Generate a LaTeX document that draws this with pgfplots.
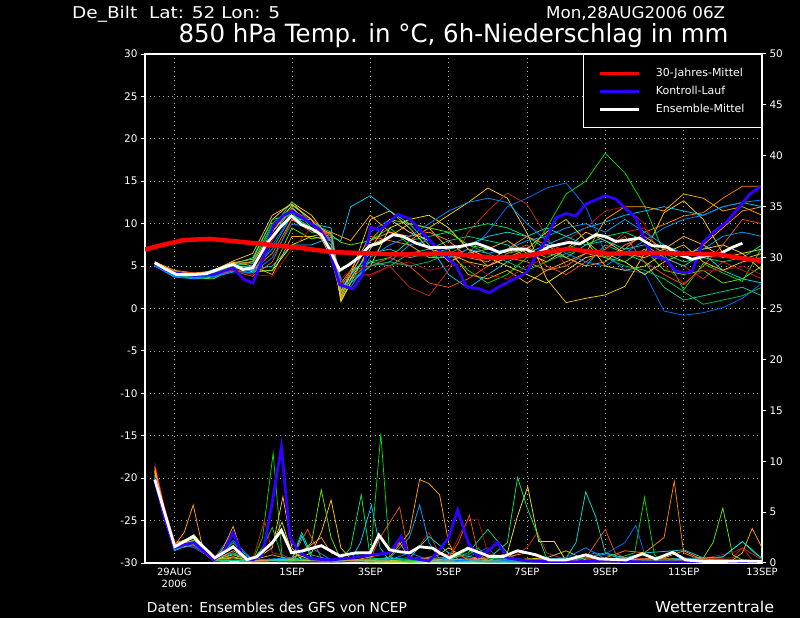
\documentclass[border=0pt]{standalone}
\usepackage{pgfplots}
\pgfplotsset{compat=1.18}
\usepackage{pgfplotstable}
\usepackage{graphicx}
\usepackage{fontspec}
\setmainfont{DejaVu Sans}

\definecolor{gridc}{RGB}{170,170,170}
\definecolor{ctrl}{RGB}{50,0,255}
\definecolor{gr}{RGB}{0,220,0}
\definecolor{az}{RGB}{0,110,255}
\definecolor{gd}{RGB}{255,200,0}
\definecolor{dor}{RGB}{255,130,0}
\definecolor{cy}{RGB}{0,200,255}
\definecolor{te}{RGB}{0,210,150}
\definecolor{rb}{RGB}{200,40,20}
\definecolor{orc}{RGB}{255,165,0}
\definecolor{ye}{RGB}{240,230,30}
\definecolor{li}{RGB}{100,230,0}
\definecolor{sg}{RGB}{0,235,100}
\definecolor{dr}{RGB}{170,20,20}
\definecolor{ore}{RGB}{240,80,20}
\definecolor{sb}{RGB}{0,160,255}
\definecolor{lo}{RGB}{255,185,60}
\definecolor{tc}{RGB}{0,220,210}
\definecolor{yd}{RGB}{230,200,20}
\definecolor{gm}{RGB}{0,190,90}
\definecolor{bm}{RGB}{0,140,255}
\definecolor{om}{RGB}{255,140,60}

\pgfplotstableread{
d     m1   m2   m3   m4   m5   m6   m7   m8   m9   m10  m11  m12  m13  m14  m15  m16  m17  m18  m19  m20
0.5   5.3  5.0  5.5  5.2  5.1  5.0  5.2  5.5  5.4  5.3  5.0  5.1  5.4  5.0  5.3  5.2  5.2  5.1  5.0  5.4
1.0   4.2  3.9  4.4  4.0  3.8  4.1  4.3  4.5  4.1  4.0  4.2  4.3  4.4  3.7  4.2  4.0  4.1  4.0  3.8  4.3
1.5   3.9  3.7  4.1  3.8  3.6  3.9  4.0  4.2  4.0  3.6  3.8  4.0  4.2  3.5  4.0  3.8  3.9  3.7  3.6  4.1
2.0   4.3  3.9  4.2  4.0  3.8  4.3  4.0  4.4  4.2  3.5  4.6  3.9  4.0  3.7  4.5  4.1  4.1  4.2  3.8  4.3
2.5   5.0  4.6  5.4  5.0  4.5  5.1  4.6  5.5  5.2  4.8  5.2  4.5  4.4  4.3  5.6  4.9  5.0  4.9  4.4  5.3
3.0   5.5  4.0  5.8  4.5  4.6  5.3  4.2  5.0  4.3  4.5  6.0  4.0  3.8  4.5  6.5  5.0  4.8  5.6  4.2  5.5
3.5   10.0 7.5  10.5 6.5  5.0  9.5  8.0  4.0  4.5  4.5  10.5 3.8  5.5  7.0  11.0 8.5  9.0  9.8  6.0  9.0
4.0   12.0 11.0 12.5 10.5 7.5  12.6 11.5 8.5  7.5  9.5  11.0 7.0  10.5 11.0 12.3 11.8 12.2 11.3 10.0 11.8
4.5   9.5  10.0 11.0 10.5 7.5  10.0 10.5 8.5  8.5  8.2  9.5  9.5  9.0  10.0 10.5 10.0 10.5 9.0  9.5  10.0
5.0   7.5  8.5  8.0  8.5  8.4  9.0  8.0  9.0  8.0  8.7  8.0  8.5  9.0  8.0  7.0  9.5  6.0  8.8  8.0  8.8
5.25  2.0  2.5  1.0  3.0  8.0  1.5  3.0  8.5  0.8  7.8  1.8  3.5  2.5  2.8  1.2  2.0  1.5  2.2  3.5  2.0
5.5   4.0  3.5  3.0  4.5  12.0 3.5  3.8  8.0  3.0  7.5  4.5  4.5  4.5  3.0  3.5  4.0  4.0  3.3  2.5  4.0
6.0   8.0  9.0  7.5  8.5  13.3 5.5  4.0  11.0 5.0  8.0  5.5  3.8  5.0  5.0  7.0  6.5  10.5 5.0  6.0  8.0
6.5   9.5  10.5 8.5  8.0  11.5 5.0  5.0  9.0  9.5  10.5 6.0  5.0  6.0  5.5  10.5 7.0  11.5 5.5  7.5  9.0
7.0   7.5  9.0  10.0 7.5  10.0 6.5  2.5  8.0  10.5 10.0 8.0  5.5  5.0  7.5  9.0  6.0  9.5  5.0  8.5  8.5
7.5   6.0  8.0  9.5  6.0  7.5  7.0  1.5  9.5  11.0 9.5  8.5  4.5  3.0  8.0  8.0  6.5  7.0  5.5  10.0 9.0
8.0   6.5  6.0  11.0 6.0  4.0  8.0  4.5  7.0  9.5  9.0  9.0  5.0  2.5  6.0  5.5  7.0  6.5  6.5  11.5 8.0
8.5   4.5  6.5  12.5 7.0  2.4  8.5  9.0  4.0  7.0  7.5  9.5  5.5  3.5  7.0  6.5  7.5  5.5  7.5  12.5 6.0
9.0   3.0  9.0  14.2 5.0  4.0  8.0  11.5 3.5  6.0  7.0  10.0 4.0  5.0  6.5  7.0  8.5  5.0  6.5  13.0 5.5
9.5   4.0  12.0 13.0 6.0  5.5  7.5  13.6 4.5  5.0  6.5  9.5  3.5  6.5  7.0  8.0  9.0  6.0  5.5  12.5 7.0
10.0  6.0  13.0 8.9  5.5  6.5  6.0  12.3 3.0  4.0  7.0  8.5  5.0  7.5  8.0  6.5  8.5  7.0  4.5  10.0 8.5
10.5  9.5  14.2 3.5  4.5  7.5  6.5  8.5  4.5  3.0  6.0  7.0  6.0  5.0  8.5  5.5  9.5  9.0  5.5  8.0  7.5
11.0  13.5 14.8 0.7  5.0  8.5  6.0  5.0  5.5  4.5  7.0  6.0  8.0  4.0  9.5  7.0  8.5  10.5 6.5  6.5  6.0
11.5  15.0 12.0 1.2  6.5  9.5  5.0  6.5  6.5  6.0  8.0  7.5  9.5  5.5  10.0 9.0  7.5  8.0  7.0  5.5  5.0
12.0  18.3 6.5  1.6  6.0  10.2 7.5  7.0  10.5 6.5  6.0  8.5  11.5 7.0  9.0  8.0  8.0  5.0  6.0  5.0  5.5
12.5  16.0 4.5  2.6  7.0  11.0 6.5  9.0  12.0 5.5  5.5  9.0  12.0 8.5  10.5 6.5  7.0  4.5  5.0  6.5  7.5
13.0  12.1 4.2  6.5  9.0  11.5 5.5  9.5  12.0 4.0  7.0  8.0  10.0 5.5  9.0  6.0  7.5  5.0  4.5  8.0  8.5
13.5  6.5  -0.3 11.3 9.9  12.0 2.5  6.0  11.5 5.5  4.5  6.5  5.0  4.0  7.5  7.0  6.0  6.5  3.5  9.5  7.0
14.0  2.2  -0.8 12.7 10.9 11.5 1.0  5.0  13.5 6.5  4.0  5.5  3.0  2.8  6.5  8.5  5.0  7.5  2.0  10.5 6.0
14.5  5.3  -0.5 10.5 11.3 11.0 1.5  3.5  13.0 7.0  4.5  6.0  4.5  5.0  7.0  7.5  6.5  5.5  0.5  11.0 7.5
15.0  4.2  0.1  6.5  13.0 12.0 2.0  5.5  11.5 7.5  3.0  5.5  4.5  7.5  8.5  6.0  4.5  4.5  1.0  12.0 9.5
15.5  3.2  1.2  5.8  14.4 12.5 2.5  4.5  12.0 6.5  3.5  6.0  5.0  10.5 9.0  6.5  3.5  5.5  1.5  12.5 11.5
16.0  7.2  3.0  6.5  14.4 12.0 1.5  3.5  11.0 7.0  5.0  7.5  4.0  10.0 8.5  4.5  3.0  6.0  2.5  12.8 12.0
}\tmembers

\pgfplotsset{
  mem/.style={line width=0.75bp, forget plot},
}

\begin{document}
\begin{tikzpicture}
\fill[black] (0bp,0bp) rectangle (800bp,618bp);

\begin{axis}[
  at={(145bp,55bp)}, anchor=south west, scale only axis,
  width=617bp, height=509bp,
  xmin=0.25, xmax=16, ymin=-30, ymax=30,
  axis line style={white, line width=1.5bp},
  xtick={1,4,6,8,10,12,14,16},
  xticklabels={{29AUG\\2006},1SEP,3SEP,5SEP,7SEP,9SEP,11SEP,13SEP},
  xticklabel style={text=white, align=center, font=\fontsize{10}{11.5}\selectfont, inner sep=1bp},
  xtick style={draw=none},
  ytick={-30,-25,...,30},
  ytick pos=left,
  yticklabel style={text=white, font=\fontsize{10.5}{10.5}\selectfont},
  tick align=outside, major tick length=4bp,
  ytick style={white, line width=1bp},
  grid=major,
  major grid style={draw=gridc, line width=0.8bp, dash pattern=on 1bp off 3.5bp},
  /pgf/number format/assume math mode=true,
  legend style={at={(1,1)}, anchor=north east, fill=black, draw=white, line width=1bp,
    text=white, font=\fontsize{11}{11}\selectfont, inner xsep=15bp, inner ysep=12bp,
    row sep=4bp, column sep=13bp, nodes={inner sep=2bp}},
  legend cell align=left,
  legend image code/.code={\draw[#1, line width=3bp] (0bp,0bp) -- (39bp,0bp);},
]
\addlegendimage{red}\addlegendentry{30-Jahres-Mittel}
\addlegendimage{ctrl}\addlegendentry{Kontroll-Lauf}
\addlegendimage{white}\addlegendentry{Ensemble-Mittel}

\addplot[mem, gr]  table[x=d,y=m1]{\tmembers};
\addplot[mem, az]  table[x=d,y=m2]{\tmembers};
\addplot[mem, gd]  table[x=d,y=m3]{\tmembers};
\addplot[mem, dor] table[x=d,y=m4]{\tmembers};
\addplot[mem, cy]  table[x=d,y=m5]{\tmembers};
\addplot[mem, te]  table[x=d,y=m6]{\tmembers};
\addplot[mem, rb]  table[x=d,y=m7]{\tmembers};
\addplot[mem, orc] table[x=d,y=m8]{\tmembers};
\addplot[mem, ye]  table[x=d,y=m9]{\tmembers};
\addplot[mem, li]  table[x=d,y=m10]{\tmembers};
\addplot[mem, sg]  table[x=d,y=m11]{\tmembers};
\addplot[mem, dr]  table[x=d,y=m12]{\tmembers};
\addplot[mem, ore] table[x=d,y=m13]{\tmembers};
\addplot[mem, sb]  table[x=d,y=m14]{\tmembers};
\addplot[mem, lo]  table[x=d,y=m15]{\tmembers};
\addplot[mem, tc]  table[x=d,y=m16]{\tmembers};
\addplot[mem, yd]  table[x=d,y=m17]{\tmembers};
\addplot[mem, gm]  table[x=d,y=m18]{\tmembers};
\addplot[mem, bm]  table[x=d,y=m19]{\tmembers};
\addplot[mem, om]  table[x=d,y=m20]{\tmembers};

% Kontroll-Lauf
\addplot[ctrl, line width=2.8bp, forget plot] coordinates {
(0.5,5.3)(0.75,4.6)(1.0,4.2)(1.5,3.9)(2.0,4.0)(2.5,4.8)(2.75,3.5)(3.0,3.0)(3.26,5.8)(3.52,9.7)
(3.77,10.9)(3.99,11.5)(4.4,10.3)(4.71,9.3)(4.88,8.1)(5.22,2.8)(5.56,2.3)(5.81,4.0)(6.0,9.6)(6.24,9.2)
(6.49,10.2)(6.7,11.1)(7.0,10.6)(7.26,9.3)(7.77,6.8)(8.2,5.0)(8.45,2.6)(8.79,2.3)(9.04,1.85)(9.3,2.6)
(9.64,3.4)(9.98,4.2)(10.23,6.2)(10.49,8.1)(10.74,10.7)(11.0,11.2)(11.25,10.9)(11.5,12.3)(12.0,13.3)
(12.27,12.9)(12.53,11.7)(12.78,10.7)(13.03,7.7)(13.2,6.2)(13.54,5.8)(13.8,4.4)(14.05,4.2)(14.22,4.4)
(14.48,7.7)(14.73,8.9)(15.07,10.1)(15.41,11.9)(15.67,13.4)(15.96,14.4)};
% Ensemble-Mittel
\addplot[white, line width=2.8bp, forget plot] coordinates {
(0.5,5.4)(0.75,4.7)(1.06,4.0)(1.5,4.0)(1.82,4.1)(2.33,5.0)(2.5,5.2)(2.75,4.6)(3.0,4.8)(3.35,7.6)
(3.69,9.5)(3.99,10.9)(4.24,9.9)(4.5,9.4)(4.75,8.7)(4.96,7.0)(5.22,4.5)(5.47,5.2)(5.73,6.1)(5.98,7.4)
(6.24,7.7)(6.58,8.7)(6.83,8.5)(7.17,7.7)(7.51,7.2)(7.93,7.2)(8.28,7.3)(8.7,7.7)(9.0,7.2)(9.3,6.6)
(9.63,7.0)(9.98,7.0)(10.23,6.4)(10.57,7.3)(11.08,7.8)(11.34,7.6)(11.76,8.7)(12.0,8.5)(12.27,7.9)
(12.6,8.1)(12.86,8.3)(13.2,7.4)(13.54,7.3)(13.88,6.4)(14.22,5.8)(14.56,6.2)(14.9,6.4)(15.24,7.2)(15.5,7.7)};
% 30-Jahres-Mittel
\addplot[red, line width=4.5bp, forget plot] coordinates {
(0.25,6.96)(0.75,7.55)(1.22,8.06)(1.9,8.2)(2.5,7.95)(3.35,7.55)(4.2,7.15)(5.04,6.65)(5.9,6.5)
(6.75,6.37)(8.02,6.49)(9.13,5.97)(9.6,6.05)(10.15,6.37)(10.6,6.7)(11.08,7.04)(11.6,6.7)(12.1,6.45)
(13.12,6.57)(13.54,6.5)(14.2,6.45)(14.9,6.37)(15.24,6.1)(15.6,5.85)(16.0,5.58)};
\end{axis}

\begin{axis}[
  at={(145bp,55bp)}, anchor=south west, scale only axis,
  width=617bp, height=509bp,
  xmin=0.25, xmax=16, ymin=0, ymax=50,
  axis x line=none, axis y line*=right,
  axis line style={white, line width=1.5bp},
  ytick={0,5,...,50},
  tick align=outside, major tick length=4bp,
  ytick style={white, line width=1bp},
  yticklabel style={text=white, font=\fontsize{10.5}{10.5}\selectfont},
  /pgf/number format/assume math mode=true,
]
\addplot[mem, gr] coordinates {(0.5,8.6)(0.75,4.8)(1,1.3)(1.5,2.3)(2,0.2)(2.5,0.9)(3,0.2)(3.25,2.5)(3.52,10.8)(3.75,0.6)(4,0.3)(5,0.2)(6,0.4)(6.27,12.7)(6.5,0.6)(7,0.1)(8,0.2)(8.5,1.3)(9,0.2)(10,0.1)(12,0.1)(12.75,1.0)(13.0,6.45)(13.25,0.8)(13.5,0.2)(16,0.1)};
\addplot[mem, az] coordinates {(0.5,8.0)(0.75,4.4)(1,2.0)(1.5,1.5)(2,0.4)(2.5,3.0)(2.75,0.6)(3,0.2)(4,0.3)(4.25,2.6)(4.5,0.5)(5,0.1)(8,0.2)(8.5,0.6)(9.0,1.5)(9.25,0.5)(10.5,0.1)(11.5,0.5)(12.0,0.9)(12.5,2.0)(12.78,3.7)(13.0,0.9)(13.5,0.2)(16,0.1)};
\addplot[mem, gd] coordinates {(0.5,9.0)(0.75,5.0)(1,1.8)(1.5,2.0)(2,0.3)(2.5,0.5)(3,0.2)(4,0.2)(4.5,1.0)(4.75,3.0)(5.0,6.2)(5.25,1.5)(5.5,0.4)(6,0.2)(7,0.1)(7.75,0.8)(8.0,1.5)(8.5,0.3)(10,0.2)(12,0.1)(16,0.1)};
\addplot[mem, dor] coordinates {(0.5,9.5)(0.75,5.2)(1,1.5)(1.5,2.5)(2,0.2)(2.5,0.6)(3,0.1)(4,0.2)(5,0.2)(6,0.3)(7,0.2)(8.5,0.2)(9.5,0.3)(11,0.3)(12,0.5)(12.5,1.2)(13,1.0)(13.5,2.5)(13.76,8.05)(14.0,1.0)(14.25,0.6)(15,0.3)(16,0.1)};
\addplot[mem, cy] coordinates {(0.5,8.2)(0.75,4.3)(1,1.2)(1.5,2.0)(2,0.3)(2.5,1.5)(3,0.2)(4,0.1)(5,0.1)(5.5,0.3)(5.75,2.0)(6.03,5.7)(6.25,1.5)(6.5,0.2)(8,0.1)(10,0.1)(12,0.1)(16,0.1)};
\addplot[mem, te] coordinates {(0.5,8.4)(0.75,4.6)(1,1.8)(1.5,2.2)(2,0.3)(2.5,2.0)(3,0.2)(4,0.4)(4.25,3.0)(4.5,0.8)(5,0.3)(6,0.1)(8,0.3)(8.5,1.0)(9.0,3.3)(9.5,1.0)(9.75,0.2)(11,0.1)(14,0.1)(15.0,0.6)(15.5,2.1)(15.8,1.0)(16,0.5)};
\addplot[mem, rb] coordinates {(0.5,9.2)(0.75,5.3)(1,2.2)(1.5,1.8)(2,0.5)(2.5,1.0)(3,0.3)(3.3,4.2)(3.5,1.0)(3.75,0.8)(4.0,0.4)(5,0.2)(6,0.2)(7,0.3)(7.5,3.0)(7.75,1.0)(8.5,0.5)(9.5,0.3)(10.0,1.5)(10.27,3.0)(10.5,1.0)(11,0.3)(12,0.2)(15.25,0.5)(15.5,1.5)(16,0.3)};
\addplot[mem, orc] coordinates {(0.5,9.0)(0.75,5.0)(1,1.7)(1.25,3.0)(1.48,5.7)(1.75,1.0)(2,0.2)(2.25,1.5)(2.5,3.6)(2.75,0.6)(3,0.3)(3.5,0.8)(4,0.3)(5,0.2)(6,0.2)(6.5,0.6)(7.0,3.0)(7.26,8.2)(7.5,7.8)(7.77,6.7)(8.0,2.0)(8.25,0.2)(9,0.1)(12,0.1)(15.25,0.3)(15.5,1.0)(15.75,3.4)(16,1.5)};
\addplot[mem, ye] coordinates {(0.5,8.0)(0.75,4.2)(1,1.4)(1.5,1.8)(2,0.2)(3,0.1)(4,0.3)(5,0.2)(6,0.1)(7,0.1)(8,0.3)(9,0.2)(9.5,1.0)(9.75,4.5)(10.02,7.5)(10.3,2.1)(10.7,2.1)(11.0,0.2)(12,0.1)(16,0.1)};
\addplot[mem, li] coordinates {(0.5,8.3)(0.75,4.5)(1,1.6)(1.5,2.0)(2,0.3)(2.5,0.6)(3,0.2)(4,0.2)(4.5,2.0)(4.75,7.2)(5.0,2.5)(5.25,0.3)(6,0.1)(8,0.1)(10,0.1)(14.5,0.5)(14.75,2.0)(15.0,5.4)(15.25,0.8)(15.5,0.3)(16,0.1)};
\addplot[mem, sg] coordinates {(0.5,8.6)(0.75,4.7)(1,1.9)(1.5,2.4)(2,0.3)(3,0.2)(4,0.2)(5.25,0.3)(5.5,1.5)(5.77,6.7)(6.0,0.5)(7,0.1)(8,0.2)(9,0.4)(9.5,2.0)(9.76,8.4)(10.0,5.5)(10.25,3.0)(10.5,0.5)(11,0.1)(16,0.1)};
\addplot[mem, dr] coordinates {(0.5,9.8)(0.75,5.5)(1,2.0)(1.5,1.6)(2,0.4)(3,0.2)(4,0.1)(5,0.1)(6,0.2)(7,0.3)(8.0,0.5)(8.25,2.5)(8.5,4.3)(8.75,4.3)(9.0,1.0)(9.5,0.2)(11,0.1)(14,0.1)(15.25,1.0)(15.5,1.5)(15.75,0.3)(16,0.1)};
\addplot[mem, ore] coordinates {(0.5,9.4)(0.75,5.2)(1,1.5)(1.5,1.9)(2,0.3)(3,0.2)(4,0.5)(4.4,3.3)(4.75,0.5)(5,0.2)(6,0.4)(6.25,2.5)(6.5,4.0)(6.75,5.5)(7,0.5)(8,0.5)(8.25,2.0)(8.53,4.7)(8.75,1.0)(9,0.2)(11.5,0.5)(12.0,3.3)(12.25,1.0)(12.5,0.5)(16,0.2)};
\addplot[mem, sb] coordinates {(0.5,8.1)(0.75,4.4)(1,1.3)(1.5,2.1)(2,0.3)(2.5,1.0)(3,0.2)(4,0.5)(5,0.2)(6,0.3)(6.5,0.5)(7.0,2.5)(7.26,5.7)(7.5,2.0)(7.75,0.5)(9,0.1)(11,0.1)(11.75,1.0)(12.0,0.8)(13,0.2)(16,0.1)};
\addplot[mem, lo] coordinates {(0.5,9.1)(0.75,5.0)(1,1.6)(1.5,2.8)(2,0.3)(3,0.2)(3.5,1.5)(3.77,6.5)(4.0,1.5)(4.25,0.3)(5,0.2)(7,0.3)(8,0.2)(10,0.3)(11,0.2)(12,0.1)(16,0.1)};
\addplot[mem, tc] coordinates {(0.5,8.2)(0.75,4.4)(1,1.4)(1.5,2.1)(2,0.3)(3,0.2)(4,0.3)(4.25,2.7)(4.5,0.5)(5,0.2)(7,0.5)(7.5,2.6)(8,1.0)(9,0.3)(10,0.2)(11,0.5)(11.25,2.0)(11.5,7.0)(11.75,4.6)(12.0,1.0)(12.5,0.5)(13,1.0)(13.75,1.2)(14,1.3)(14.5,0.5)(15,0.6)(15.5,2.1)(15.75,1.3)(16,0.4)};
\addplot[mem, yd] coordinates {(0.5,8.8)(0.75,4.8)(1,1.7)(1.5,2.2)(2,0.3)(2.5,0.8)(3,0.2)(3.5,2.0)(3.75,4.0)(4,1.0)(4.5,0.3)(6,0.2)(7.5,0.3)(9,0.2)(10.5,0.5)(11,1.2)(11.5,0.3)(13,0.2)(14.5,0.4)(15,0.2)(16,0.1)};
\addplot[mem, gm] coordinates {(0.5,8.5)(0.75,4.6)(1,1.5)(1.5,2.0)(2,0.3)(3,0.3)(3.25,1.5)(3.5,3.5)(3.75,0.5)(5,0.2)(5.5,1.0)(6,0.5)(7,0.2)(8.5,0.8)(8.75,1.5)(9,0.5)(10,0.2)(11.5,0.5)(12,1.0)(12.5,0.2)(14,0.2)(15,0.3)(16,0.1)};
\addplot[mem, bm] coordinates {(0.5,8.0)(0.75,4.3)(1,1.4)(1.5,1.7)(2,0.4)(2.5,2.2)(3,0.3)(4,0.5)(4.5,1.5)(5,0.3)(6.5,0.3)(7,1.0)(7.5,0.3)(9,0.2)(10,0.3)(11,0.5)(11.5,1.5)(12,0.4)(13.5,0.3)(14,0.5)(15,0.2)(16,0.2)};
\addplot[mem, om] coordinates {(0.5,9.3)(0.75,5.1)(1,1.9)(1.5,2.6)(2,0.2)(2.5,1.2)(3,0.2)(4,0.4)(4.75,2.5)(5,1.0)(5.5,0.2)(6.5,1.0)(6.75,2.0)(7,0.5)(8,0.3)(9.5,0.6)(10,1.0)(10.5,0.3)(12,0.2)(13.5,0.5)(14,1.2)(14.5,0.3)(16,0.2)};
% Kontroll-Lauf
\addplot[ctrl, line width=2.8bp] coordinates {
(0.5,8.3)(0.75,4.5)(1.0,1.5)(1.25,1.8)(1.5,2.0)(2.0,0.3)(2.25,1.0)(2.5,3.0)(2.75,0.6)(3.0,0.3)(3.25,0.8)
(3.5,6.0)(3.73,11.4)(3.95,2.5)(4.2,1.0)(4.5,0.4)(5.0,0.3)(5.5,0.5)(6.0,0.8)(6.5,1.0)(6.79,2.6)(7.0,0.5)
(7.5,0.2)(7.77,1.3)(8.0,2.5)(8.23,5.2)(8.5,2.0)(8.75,0.6)(9.0,1.2)(9.25,2.0)(9.5,0.5)(10.0,0.2)(11.0,0.1)
(12.0,0.2)(13.0,0.1)(14.0,0.1)(15.0,0.1)(16.0,0.1)};
% Ensemble-Mittel
\addplot[white, line width=2.8bp] coordinates {
(0.5,8.2)(1.01,1.6)(1.48,2.6)(2.03,0.5)(2.5,1.6)(2.85,0.35)(3.1,0.6)(3.5,2.0)(3.73,3.2)(3.99,1.0)(4.28,1.2)
(4.75,1.7)(5.22,0.7)(5.64,1.0)(6.0,1.0)(6.22,2.75)(6.49,1.3)(6.75,1.1)(7.0,1.0)(7.26,1.6)(7.6,1.45)
(7.77,1.0)(8.02,0.5)(8.49,1.45)(9.04,0.65)(9.4,0.65)(9.76,1.2)(10.23,0.8)(10.57,0.3)(11.0,0.3)(11.5,0.8)
(11.85,0.4)(12.53,0.3)(12.95,0.9)(13.29,0.4)(13.72,1.05)(14.05,0.3)(14.5,0.15)(15.0,0.15)(15.5,0.2)(16.0,0.15)};
\end{axis}

\node[anchor=base west, text=white, inner sep=0pt] at (72bp,599.7bp)
  {\resizebox{208bp}{\height}{\fontsize{16.3}{16}\selectfont De\_Bilt\ \ Lat: 52 Lon: 5}};
\node[anchor=base west, text=white, inner sep=0pt] at (546bp,599.7bp)
  {\resizebox{179bp}{\height}{\fontsize{16.3}{16}\selectfont Mon,28AUG2006 06Z}};
\node[anchor=base west, text=white, inner sep=0pt] at (178.3bp,575.7bp)
  {\resizebox{550bp}{\height}{\fontsize{25.2}{25}\selectfont 850 hPa Temp. in °C, 6h-Niederschlag in mm}};
\node[anchor=base west, text=white, inner sep=0pt] at (146.7bp,5.3bp)
  {\resizebox{260bp}{\height}{\fontsize{13.7}{14}\selectfont Daten: Ensembles des GFS von NCEP}};
\node[anchor=base west, text=white, inner sep=0pt] at (655bp,5.3bp)
  {\resizebox{119bp}{\height}{\fontsize{15}{15}\selectfont Wetterzentrale}};
\end{tikzpicture}
\end{document}
